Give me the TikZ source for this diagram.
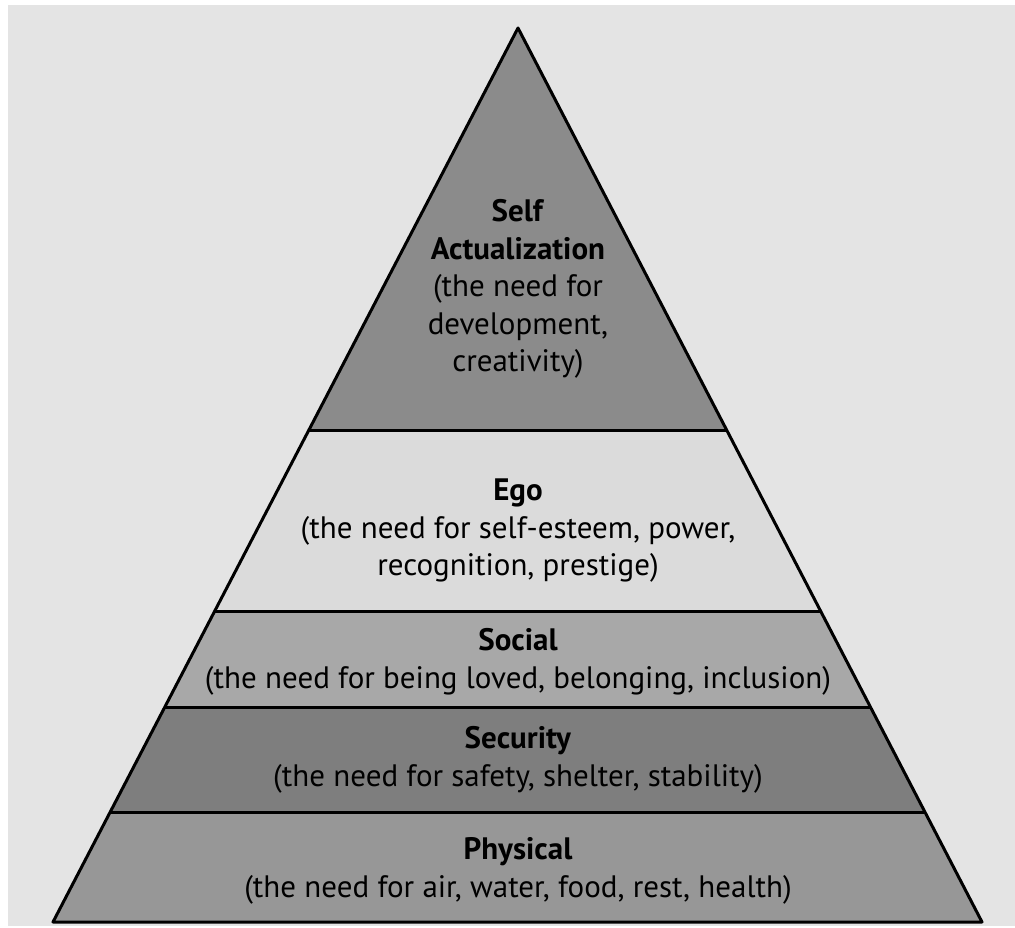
\documentclass[tikz,border=0pt]{standalone}
\usepackage{fontspec}
\setmainfont{PT Sans}
\usetikzlibrary{calc}
\definecolor{bgcol}{HTML}{E4E4E4}
\definecolor{topcol}{HTML}{8B8B8B}
\definecolor{egocol}{HTML}{DBDBDB}
\definecolor{socialcol}{HTML}{A8A8A8}
\definecolor{securitycol}{HTML}{7E7E7E}
\definecolor{physicalcol}{HTML}{979797}
\tikzset{
  divider/.style={line width=3pt, black},
  outline/.style={line width=3pt, black, line join=round},
  label/.style={align=center, inner sep=0pt, text=black,
    font=\fontsize{31}{37.5}\selectfont},
}
\begin{document}
\begin{tikzpicture}[x=1pt, y=-1pt]
  % page and background
  \fill[white] (0,0) rectangle (1015,928);
  \fill[bgcol] (8,5) rectangle (1015,926);
  \useasboundingbox (0,0) rectangle (1015,928);

  % pyramid corners
  \coordinate (apex) at (518,28);
  \coordinate (bl) at (53,922);
  \coordinate (br) at (982,922);

  % level boundaries along both sides
  \foreach \n/\t in {a/0.4497, b/0.6532, c/0.7606, d/0.8770} {
    \coordinate (L\n) at ($(apex)!\t!(bl)$);
    \coordinate (R\n) at ($(apex)!\t!(br)$);
  }

  % layers, top to bottom
  \fill[topcol]      (apex) -- (La) -- (Ra) -- cycle;
  \fill[egocol]      (La) -- (Lb) -- (Rb) -- (Ra) -- cycle;
  \fill[socialcol]   (Lb) -- (Lc) -- (Rc) -- (Rb) -- cycle;
  \fill[securitycol] (Lc) -- (Ld) -- (Rd) -- (Rc) -- cycle;
  \fill[physicalcol] (Ld) -- (bl) -- (br) -- (Rd) -- cycle;

  % dividers and outline
  \foreach \n in {a,b,c,d} \draw[divider] (L\n) -- (R\n);
  \draw[outline] (apex) -- (bl) -- (br) -- cycle;

  % texts
  \node[label] (selfact) at (518,289)
    {\textbf{Self}\\\textbf{Actualization}\\(the need for\\development,\\creativity)};
  \node[label] (ego) at (518,531)
    {\textbf{Ego}\\(the need for self-esteem, power,\\recognition, prestige)};
  \node[label] (social) at (518,662)
    {\textbf{Social}\\(the need for being loved, belonging, inclusion)};
  \node[label] (security) at (518,760)
    {\textbf{Security}\\(the need for safety, shelter, stability)};
  \node[label] (physical) at (518,871)
    {\textbf{Physical}\\(the need for air, water, food, rest, health)};
\end{tikzpicture}
\end{document}
